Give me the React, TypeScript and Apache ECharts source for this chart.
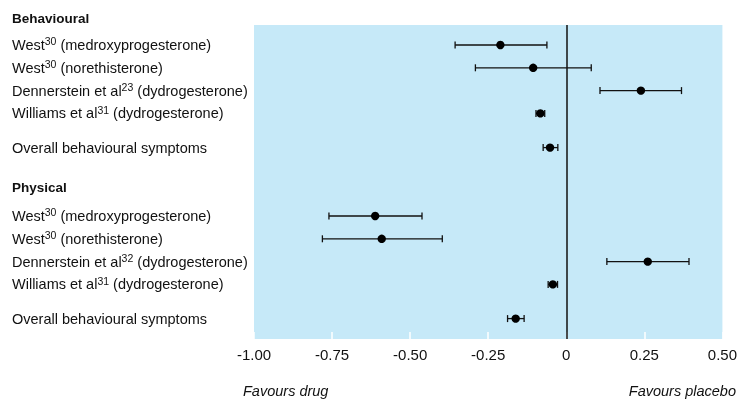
import React, { useEffect, useRef } from "react";
import * as echarts from "echarts";

// ---- data ----
const groupTitles = ["Behavioural", "Physical"];

const behaviouralStudies = [
  "{n|West}{s|30}{n| (medroxyprogesterone)}",
  "{n|West}{s|30}{n| (norethisterone)}",
  "{n|Dennerstein et al}{s|23}{n| (dydrogesterone)}",
  "{n|Williams et al}{s|31}{n| (dydrogesterone)}",
  "{n|Overall behavioural symptoms}",
];
const behaviouralEffect = [-0.211, -0.106, 0.239, -0.083, -0.052];
const behaviouralLow = [-0.356, -0.291, 0.108, -0.097, -0.074];
const behaviouralHigh = [-0.062, 0.08, 0.369, -0.069, -0.027];

const physicalStudies = [
  "{n|West}{s|30}{n| (medroxyprogesterone)}",
  "{n|West}{s|30}{n| (norethisterone)}",
  "{n|Dennerstein et al}{s|32}{n| (dydrogesterone)}",
  "{n|Williams et al}{s|31}{n| (dydrogesterone)}",
  "{n|Overall behavioural symptoms}",
];
const physicalEffect = [-0.612, -0.591, 0.261, -0.043, -0.162];
const physicalLow = [-0.76, -0.781, 0.13, -0.058, -0.188];
const physicalHigh = [-0.462, -0.397, 0.393, -0.028, -0.135];

const xTicks = [-1, -0.75, -0.5, -0.25, 0, 0.25, 0.5];
const xTickLabels = ["-1.00", "-0.75", "-0.50", "-0.25", "0", "0.25", "0.50"];

const FONT = "'Liberation Sans', Arial, Helvetica, sans-serif";

// row slots (in half-row units): study rows 2 apart, overall row 3 below,
// group header 3.5 above next group's first row
function buildRows() {
  const labels: Record<string, string> = {};
  const points: number[][] = [];
  const values: number[] = [];
  let y = 0;
  const groups = [
    { title: groupTitles[0], s: behaviouralStudies, e: behaviouralEffect, l: behaviouralLow, h: behaviouralHigh },
    { title: groupTitles[1], s: physicalStudies, e: physicalEffect, l: physicalLow, h: physicalHigh },
  ];
  groups.forEach((g, gi) => {
    if (gi > 0) {
      y += 3.5;
      labels[String(y)] = "{b|" + g.title + "}";
      values.push(y);
      y += 2.5;
    }
    g.s.forEach((lab, i) => {
      if (i === g.s.length - 1) y += 1;
      labels[String(y)] = lab;
      values.push(y);
      points.push([g.e[i], y, g.l[i], g.h[i]]);
      if (i < g.s.length - 1) y += 2;
    });
  });
  return { labels, points, values, last: y };
}

export default function App() {
  const ref = useRef<HTMLDivElement>(null);
  useEffect(() => {
    if (!ref.current) return;
    const chart = echarts.init(ref.current, undefined, { renderer: "svg" });
    const rows = buildRows();
    const option: any = {
      animation: false,
      title: {
        text: groupTitles[0],
        left: 12,
        top: 11,
        padding: 0,
        textStyle: { fontFamily: FONT, fontSize: 13.5, fontWeight: "bold", color: "#111" },
      },
      grid: {
        left: 254,
        right: 13,
        top: 25,
        bottom: 60,
        show: true,
        backgroundColor: "#c6e9f8",
        borderWidth: 0,
      },
      xAxis: {
        type: "value",
        position: "bottom",
        min: -1,
        max: 0.5,
        interval: 0.25,
        axisLine: { show: false, onZero: false },
        splitLine: { show: false },
        axisTick: { show: true, inside: true, length: 7, lineStyle: { color: "#ffffff", width: 1.5 } },
        axisLabel: {
          margin: 8,
          fontFamily: FONT,
          fontSize: 15,
          color: "#111",
          showMinLabel: true,
          showMaxLabel: true,
          formatter: (v: number) => {
            const i = xTicks.findIndex((t) => Math.abs(t - v) < 1e-9);
            return i >= 0 ? xTickLabels[i] : "";
          },
        },
      },
      yAxis: {
        type: "value",
        inverse: true,
        min: -1.754,
        max: rows.last + 1.79,
        axisLine: { show: false, onZero: false },
        axisTick: { show: false },
        splitLine: { show: false },
        axisLabel: {
          customValues: rows.values,
          align: "left",
          margin: 242,
          color: "#111",
          fontFamily: FONT,
          formatter: (v: number) => rows.labels[String(v)] || "",
          rich: {
            n: { fontFamily: FONT, fontSize: 14.5, color: "#111", lineHeight: 18 },
            s: { fontFamily: FONT, fontSize: 10.5, color: "#111", lineHeight: 9, verticalAlign: "top" },
            b: { fontFamily: FONT, fontSize: 13.5, fontWeight: "bold", color: "#111", lineHeight: 18 },
          },
        },
      },
      series: [
        {
          type: "custom",
          encode: { x: [0, 2, 3], y: 1 },
          data: rows.points,
          renderItem: (params: any, api: any) => {
            const p = api.coord([api.value(0), api.value(1)]);
            const lo = api.coord([api.value(2), api.value(1)]);
            const hi = api.coord([api.value(3), api.value(1)]);
            const cap = 3.5;
            const st = { stroke: "#111", lineWidth: 1.3 };
            return {
              type: "group",
              children: [
                { type: "line", shape: { x1: lo[0], y1: p[1], x2: hi[0], y2: p[1] }, style: st },
                { type: "line", shape: { x1: lo[0], y1: p[1] - cap, x2: lo[0], y2: p[1] + cap }, style: st },
                { type: "line", shape: { x1: hi[0], y1: p[1] - cap, x2: hi[0], y2: p[1] + cap }, style: st },
                { type: "circle", shape: { cx: p[0], cy: p[1], r: 4.2 }, style: { fill: "#000" } },
              ],
            };
          },
          markLine: {
            silent: true,
            symbol: "none",
            label: { show: false },
            lineStyle: { color: "#111", width: 1.5, type: "solid" },
            data: [{ xAxis: 0 }],
          },
        },
      ],
      graphic: [
        {
          type: "text",
          left: 243,
          top: 383,
          style: {
            text: "Favours drug",
            fill: "#111",
            fontFamily: FONT,
            fontSize: 14.5,
            fontStyle: "italic",
          },
        },
        {
          type: "text",
          right: 4,
          top: 383,
          style: {
            text: "Favours placebo",
            fill: "#111",
            fontFamily: FONT,
            fontSize: 14.5,
            fontStyle: "italic",
          },
        },
      ],
    };
    chart.setOption(option);
    return () => chart.dispose();
  }, []);
  return (
    <div
      ref={ref}
      style={{ position: "fixed", left: 0, top: 0, width: 740, height: 399 }}
    />
  );
}
